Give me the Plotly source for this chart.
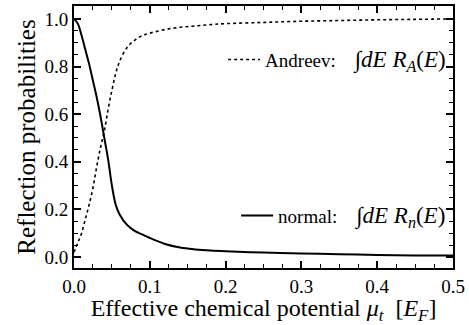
import plotly.graph_objects as go

mu = [0, 0.005, 0.01, 0.015, 0.02, 0.025, 0.03, 0.035, 0.04, 0.045, 0.05, 0.055, 0.06,
      0.07, 0.08, 0.09, 0.1, 0.12, 0.14, 0.16, 0.18, 0.2, 0.25, 0.3, 0.35, 0.4, 0.45, 0.5]
andreev = [0.02, 0.06, 0.10, 0.16, 0.22, 0.29, 0.38, 0.46, 0.53, 0.62, 0.70, 0.77, 0.82,
           0.88, 0.91, 0.93, 0.94, 0.955, 0.965, 0.97, 0.976, 0.98, 0.985, 0.99, 0.993, 0.996, 0.998, 1.0]
normal = [1.0, 0.98, 0.93, 0.87, 0.81, 0.74, 0.67, 0.59, 0.50, 0.41, 0.30, 0.22, 0.18,
          0.135, 0.11, 0.095, 0.08, 0.055, 0.04, 0.032, 0.027, 0.024, 0.019, 0.015, 0.012, 0.009, 0.007, 0.006]

xticks = [0.0, 0.1, 0.2, 0.3, 0.4, 0.5]
yticks = [0.0, 0.2, 0.4, 0.6, 0.8, 1.0]

FONT = "Liberation Serif"
MATH = "<span style='font-size:23px'>\u222B<i>dE</i>&nbsp;<i>R</i><sub><i>{}</i></sub>(<i>E</i>)</span>"

fig = go.Figure()
fig.add_trace(go.Scatter(
    x=mu, y=andreev, mode="lines", line=dict(color="black", width=1.6, dash="dot", shape="spline"),
    name="Andreev:&nbsp;&nbsp;&nbsp;&nbsp;" + MATH.format("A"), legend="legend"))
fig.add_trace(go.Scatter(
    x=mu, y=normal, mode="lines", line=dict(color="black", width=2, shape="spline"),
    name="normal:&nbsp;&nbsp;&nbsp;&nbsp;" + MATH.format("n"), legend="legend2"))

axis_common = dict(
    showline=True, linecolor="black", linewidth=2, mirror="ticks",
    ticks="inside", ticklen=7, tickwidth=1.5, tickcolor="black",
    showgrid=False, zeroline=False,
    tickfont=dict(family=FONT, size=19, color="black"),
)

fig.update_xaxes(
    range=[0, 0.5], tickvals=xticks, ticktext=[f"{v:.1f}" for v in xticks],
    minor=dict(dtick=0.025, tick0=0, ticks="inside", ticklen=4, tickcolor="black", tickwidth=1.2),
    title=dict(text="Effective chemical potential <i>\u03BC</i><sub><i>t</i></sub>&nbsp;&nbsp;[<i>E</i><sub><i>F</i></sub>]",
               font=dict(family=FONT, size=24, color="black"), standoff=7),
    **axis_common)
fig.update_yaxes(
    range=[-0.046, 1.054], tickvals=yticks, ticktext=[f"{v:.1f}" for v in yticks],
    minor=dict(dtick=0.05, tick0=0, ticks="inside", ticklen=4, tickcolor="black", tickwidth=1.2),
    title=dict(text="Reflection probabilities", font=dict(family=FONT, size=25, color="black"), standoff=2),
    **axis_common)

legend_common = dict(
    font=dict(family=FONT, size=19, color="black"), bgcolor="rgba(0,0,0,0)",
    borderwidth=0, itemwidth=32, xanchor="right", yanchor="middle",
)
fig.update_layout(
    width=469, height=325,
    margin=dict(l=74, r=14, t=4, b=57),
    plot_bgcolor="white", paper_bgcolor="white",
    font=dict(family=FONT, color="black"),
    showlegend=True,
    legend=dict(x=0.995, y=0.795, **legend_common),
    legend2=dict(x=0.995, y=0.2, **legend_common),
)

fig.write_html("out.html")
